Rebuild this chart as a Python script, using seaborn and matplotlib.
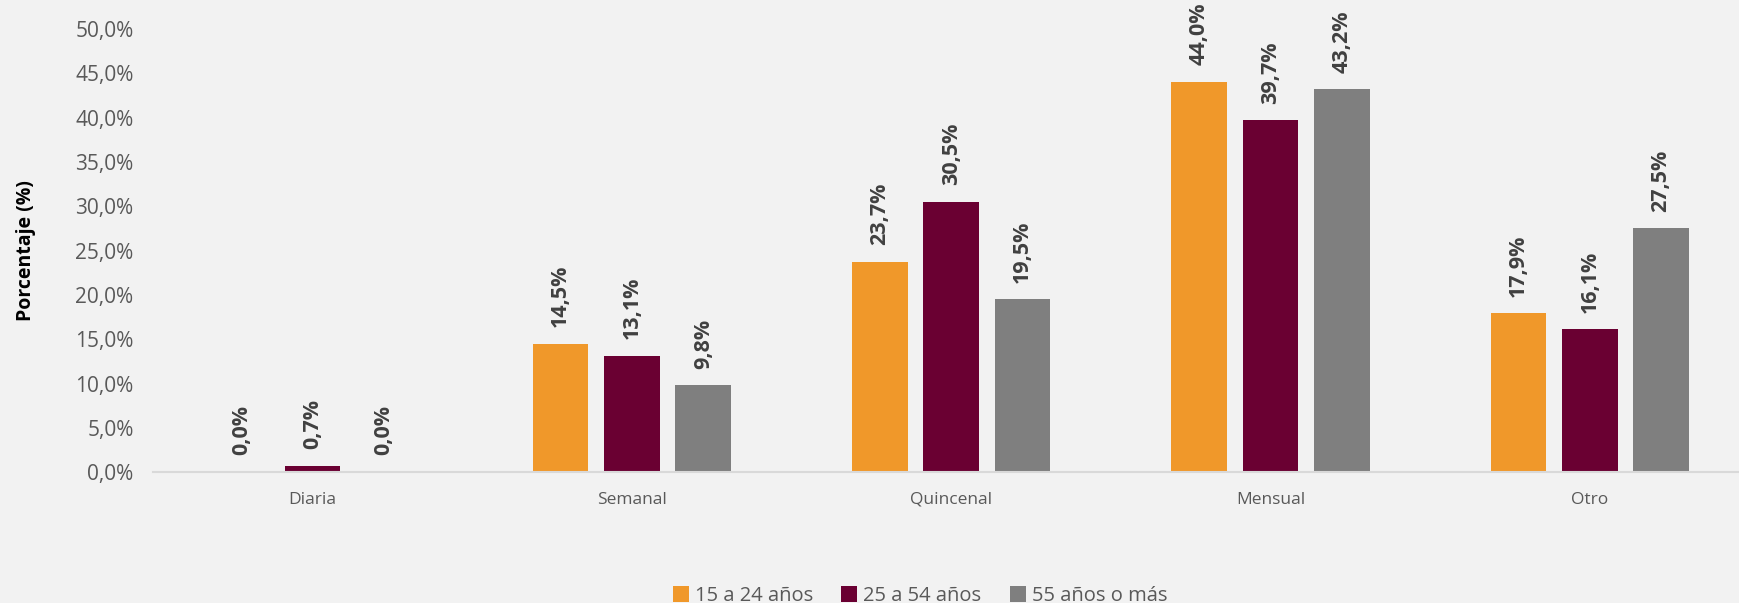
#!/usr/bin/env python3

import seaborn as sns
import pandas as pd
from matplotlib import pyplot as plt
from matplotlib.ticker import FuncFormatter

# Data
categorias = ['Diaria', 'Semanal', 'Quincenal', 'Mensual', 'Otro']
grupos = ['15 a 24 años', '25 a 54 años', '55 años o más']
jovenes = [0.0, 14.5, 23.7, 44.0, 17.9]
adultos = [0.7, 13.1, 30.5, 39.7, 16.1]
mayores = [0.0, 9.8, 19.5, 43.2, 27.5]
colores = ['#F0982A', '#6A0032', '#7F7F7F']


def coma(v):
    return f"{v:.1f}%".replace('.', ',')


def plot_barras():
    df = pd.DataFrame({
        'Frecuencia': categorias * 3,
        'Grupo': [grupos[0]] * 5 + [grupos[1]] * 5 + [grupos[2]] * 5,
        'Valor': jovenes + adultos + mayores,
    })

    sns.set_theme(style='white')
    plt.rcParams['font.family'] = ['Open Sans', 'DejaVu Sans']

    fig, ax = plt.subplots(figsize=(17.39, 6.03), dpi=100)
    fig.patch.set_facecolor('#F2F2F2')
    ax.set_facecolor('#F2F2F2')
    fig.subplots_adjust(left=0.088, right=1.006, bottom=0.217, top=0.952)

    sns.barplot(data=df, x='Frecuencia', y='Valor', hue='Grupo', palette=colores,
                width=0.67, gap=0.22, ax=ax, saturation=1, legend=True, linewidth=0)

    for cont in ax.containers:
        ax.bar_label(cont, labels=[coma(b.get_height()) for b in cont], rotation=90,
                     padding=12, fontsize=15.5, fontweight='bold', color='#404040')

    ax.set_ylim(0, 50)
    ax.set_xlim(-0.5, 4.5)
    ax.set_yticks(range(0, 51, 5))
    ax.yaxis.set_major_formatter(FuncFormatter(lambda v, p: coma(v)))
    ax.tick_params(axis='y', labelsize=15, labelcolor='#595959', length=0, pad=14)
    ax.tick_params(axis='x', labelsize=12.5, labelcolor='#595959', length=0, pad=14)
    ax.set_xlabel('')
    ax.set_ylabel('Porcentaje (%)', fontsize=14, fontweight='bold', color='black', labelpad=28)

    for s in ['top', 'right', 'left']:
        ax.spines[s].set_visible(False)
    ax.spines['bottom'].set_color('#D9D9D9')
    ax.spines['bottom'].set_linewidth(1.5)

    handles, labels = ax.get_legend_handles_labels()
    ax.legend(handles, labels, loc='lower center', bbox_to_anchor=(0.529, -0.035),
              bbox_transform=fig.transFigure, ncol=3, frameon=False, fontsize=14.5,
              labelcolor='#595959', handlelength=0.8, handleheight=0.8,
              handletextpad=0.3, columnspacing=1.4)

    fig.savefig('out.png', dpi=100, facecolor=fig.get_facecolor())


if __name__ == '__main__':
    plot_barras()
